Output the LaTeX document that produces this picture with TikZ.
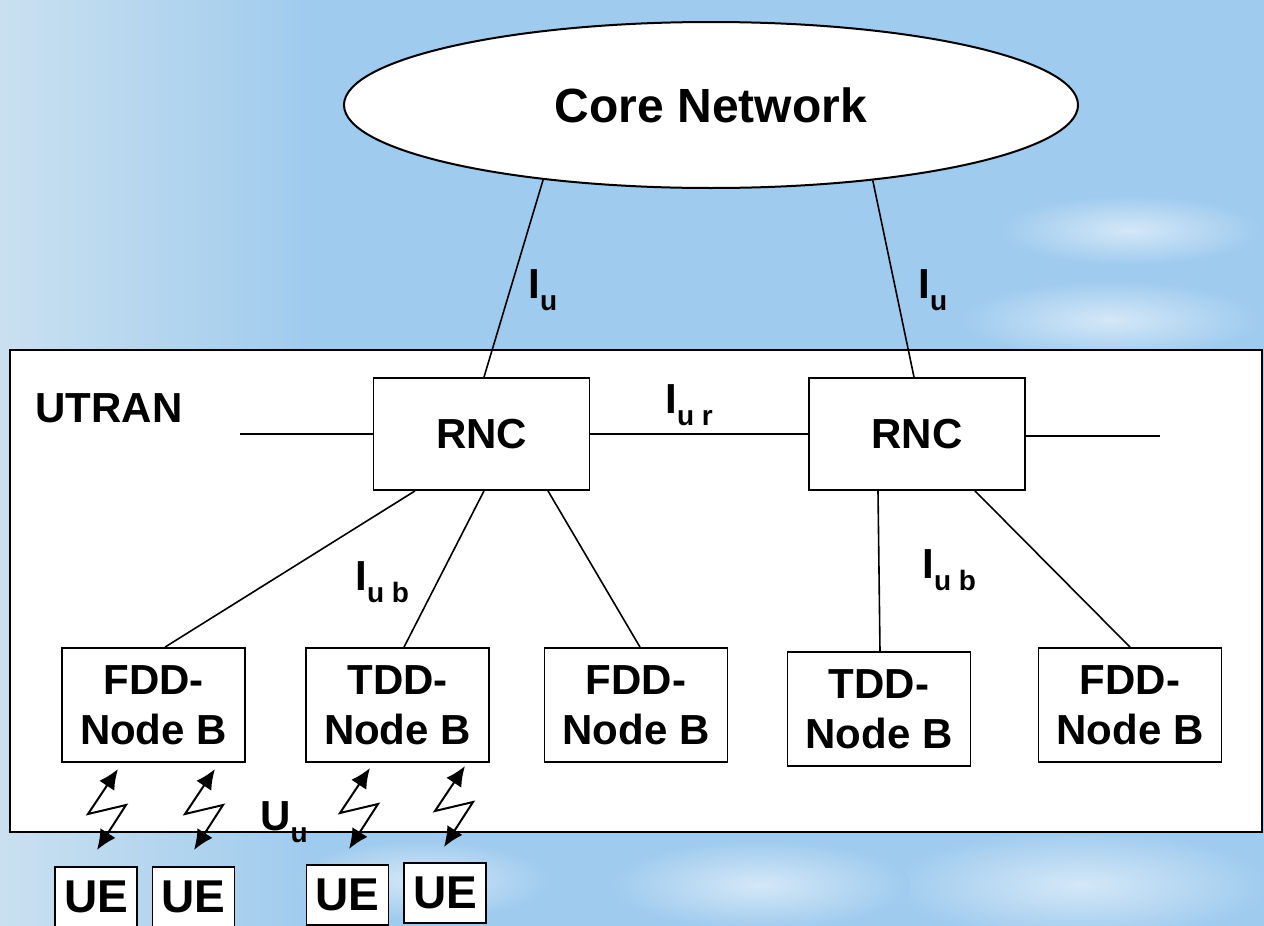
\documentclass[tikz,border=0pt]{standalone}
\usepackage{fontspec}
\setmainfont{Liberation Sans}
\usetikzlibrary{shapes.geometric,arrows.meta,calc}

\definecolor{sky}{HTML}{9FCBEE}
\definecolor{skylight}{HTML}{CFE3F1}

\tikzset{
  box/.style={draw,fill=white,line width=0.9pt,align=center,inner sep=0pt,
    font=\fontsize{21}{25}\selectfont\bfseries},
  rnc/.style={box,minimum width=108pt,minimum height=56pt},
  nodeb/.style={box,minimum width=91.5pt,minimum height=57pt},
  ue/.style={box,minimum width=41pt,minimum height=30pt,
    font=\fontsize{23}{25}\selectfont\bfseries},
  link/.style={line width=0.8pt},
  zap/.style={line width=1pt,{Latex[length=10pt,width=9pt]}-{Latex[length=10pt,width=9pt]}},
  lab/.style={anchor=base west,inner sep=0pt,font=\fontsize{21}{25}\selectfont\bfseries},
  cloud/.style={inner color=white!55!sky,outer color=sky}
}
\newcommand{\subl}[2]{#1\raisebox{-6pt}{\fontsize{14}{14}\selectfont #2}}

\begin{document}
\begin{tikzpicture}[x=0.5pt,y=-0.5pt]
  \useasboundingbox (0,0) rectangle (1264,926);
  \clip (0,0) rectangle (1264,926);

  % Himmel
  \fill[sky] (0,0) rectangle (1264,926);
  \shade[cloud] (1130,230) ellipse (130 and 35);
  \shade[cloud] (1110,320) ellipse (150 and 40);
  \shade[cloud] (1080,885) ellipse (190 and 55);
  \shade[cloud] (760,885) ellipse (150 and 45);
  \shade[cloud] (420,880) ellipse (130 and 40);
  \shade[left color=skylight,right color=sky,opacity=0.9] (0,0) rectangle (320,926);

  % UTRAN
  \draw[fill=white,line width=0.9pt] (10,350) rectangle (1262,832);
  \node[lab] (utran) at (35,422) {UTRAN};

  % Kernnetz
  \node[ellipse,draw,fill=white,line width=1pt,minimum width=367pt,minimum height=83pt,
    font=\fontsize{24}{28}\selectfont\bfseries] (core) at (711,105) {Core Network};

  % RNC
  \node[rnc] (rncA) at (481.5,434) {RNC};
  \node[rnc] (rncB) at (917,434) {RNC};

  % Node B
  \node[nodeb] (nbA) at (153.5,705) {FDD-\\Node B};
  \node[nodeb] (nbB) at (397.5,705) {TDD-\\Node B};
  \node[nodeb] (nbC) at (636,705) {FDD-\\Node B};
  \node[nodeb] (nbD) at (879,709) {TDD-\\Node B};
  \node[nodeb] (nbE) at (1130,705) {FDD-\\Node B};

  % UE
  \node[ue] (ueA) at (96,897) {UE};
  \node[ue] (ueB) at (193.5,897) {UE};
  \node[ue] (ueC) at (347.5,895) {UE};
  \node[ue] (ueD) at (445,893) {UE};

  % Verbindungen
  \draw[link] (core.204) -- ($(rncA.north)+(2.5,0)$);
  \draw[link] (core.-25) -- ($(rncB.north)+(-3,0)$);
  \coordinate (stubL) at (240,434);
  \coordinate (stubR) at (1160,436);
  \draw[link] (stubL) -- (rncA.west);
  \draw[link] (rncA.east) -- (rncB.west);
  \draw[link] ($(rncB.east)+(0,2)$) -- (stubR);
  \draw[link] ($(rncA.south)+(-66.5,0)$) -- ($(nbA.north)+(11.5,0)$);
  \draw[link] ($(rncA.south)+(2.5,0)$) -- ($(nbB.north)+(6.5,0)$);
  \draw[link] ($(rncA.south)+(66.5,0)$) -- ($(nbC.north)+(4,0)$);
  \draw[link] ($(rncB.south)+(-39,0)$) -- ($(nbD.north)+(1,0)$);
  \draw[link] ($(rncB.south)+(58,0)$) -- (nbE.north);

  % Funk
  \coordinate (zA) at (118,769);
  \coordinate (zB) at (215,769);
  \coordinate (zC) at (370,768);
  \coordinate (zD) at (465,766);
  \foreach \z in {zA,zB,zC,zD}
    \draw[zap] (\z) -- ++(-30,45) -- ++(38,-9) -- ++(-29,45);

  % Schnittstellen
  \node[lab] (iuA) at (528,298) {\subl{I}{u}};
  \node[lab] (iuB) at (918,298) {\subl{I}{u}};
  \node[lab] (iur) at (665,413) {\subl{I}{u r}};
  \node[lab] (iubA) at (355,590) {\subl{I}{u b}};
  \node[lab] (iubB) at (922,578) {\subl{I}{u b}};
  \node[lab] (uu) at (260,830) {\subl{U}{u}};
\end{tikzpicture}
\end{document}
